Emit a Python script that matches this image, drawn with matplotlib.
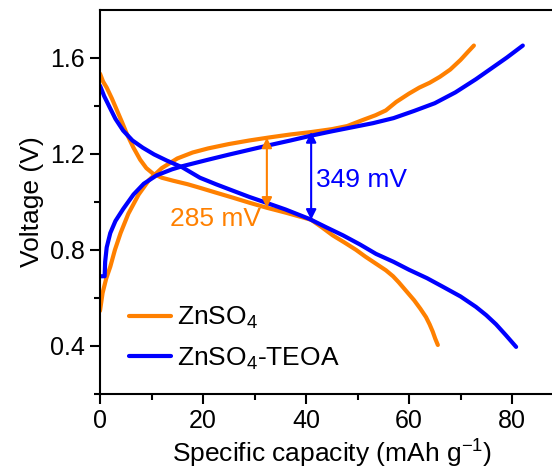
import matplotlib
matplotlib.use("Agg")
import matplotlib.pyplot as plt

plt.rcParams['font.family'] = ['Liberation Sans', 'DejaVu Sans']
plt.rcParams['mathtext.default'] = 'regular'

# ZnSO4 charge / discharge (capacity mAh/g, voltage V)
zn_chg_x = [0.0, 0.5, 1.2, 2.0, 2.9, 4.0, 5.5, 7.5, 9.5, 12, 15, 18, 21, 25, 29, 33,
            37, 41, 45, 48, 51, 53.5, 55.5, 57.5, 60, 62, 64, 66, 68, 70, 71.5, 72.6]
zn_chg_v = [0.546, 0.62, 0.68, 0.73, 0.80, 0.87, 0.95, 1.03, 1.09, 1.14, 1.18, 1.205,
            1.222, 1.24, 1.255, 1.268, 1.28, 1.29, 1.302, 1.315, 1.34, 1.36, 1.38, 1.415,
            1.45, 1.475, 1.495, 1.52, 1.55, 1.59, 1.625, 1.65]
zn_dis_x = [0.0, 0.6, 1.3, 2.3, 3.3, 4.3, 5.2, 6.5, 7.8, 9.0, 10.3, 12, 14.2, 17, 19.4,
            22.5, 25.8, 29, 32.4, 36, 41, 43, 45.2, 47.5, 49.7, 51.5, 53.6, 55.5, 56.9,
            58, 59, 60, 61, 62.2, 63.3, 64, 64.6, 65.1, 65.6]
zn_dis_v = [1.533, 1.50, 1.475, 1.43, 1.38, 1.33, 1.283, 1.225, 1.175, 1.14, 1.117, 1.10,
            1.0875, 1.073, 1.058, 1.038, 1.017, 0.996, 0.975, 0.955, 0.925, 0.895, 0.86,
            0.83, 0.80, 0.772, 0.742, 0.715, 0.69, 0.665, 0.64, 0.615, 0.59, 0.555, 0.52,
            0.49, 0.46, 0.43, 0.404]

# ZnSO4-TEOA charge / discharge
te_chg_x = [0.0, 0.9, 1.0, 1.3, 2.0, 3.0, 4.5, 6.5, 8.5, 11, 14, 16, 21, 25, 29, 33, 37,
            41, 45, 49, 53, 57, 61, 65, 69, 73, 76, 79, 82.1]
te_chg_v = [0.69, 0.69, 0.75, 0.81, 0.87, 0.92, 0.97, 1.03, 1.075, 1.11, 1.135, 1.148,
            1.175, 1.196, 1.216, 1.236, 1.255, 1.275, 1.293, 1.31, 1.327, 1.348, 1.378,
            1.41, 1.455, 1.51, 1.555, 1.60, 1.65]
te_dis_x = [0.0, 0.8, 1.9, 3.0, 4.5, 6.3, 8.3, 10.5, 13, 16, 19.4, 22.5, 25.8, 29, 32.4,
            36, 40.6, 44, 47.2, 50.5, 53.6, 57, 60, 63.5, 66.6, 70, 73, 75, 76.9, 78.8, 80.8]
te_dis_v = [1.483, 1.44, 1.392, 1.345, 1.296, 1.255, 1.225, 1.197, 1.171, 1.143, 1.10,
            1.073, 1.046, 1.02, 0.995, 0.968, 0.929, 0.893, 0.86, 0.822, 0.783, 0.75, 0.717,
            0.682, 0.646, 0.606, 0.5625, 0.528, 0.49, 0.445, 0.396]

# voltage-gap annotations: x, top V, bottom V, label
gap_x = [32.4, 41.0]
gap_top = [1.267, 1.29]
gap_bot = [0.975, 0.925]
gap_labels = ['285 mV', '349 mV']
gap_label_pos = [(22.5, 0.93), (42.0, 1.09)]

orange = '#FF8000'
blue = '#0000FF'

fig = plt.figure(figsize=(5.52, 4.72), dpi=100)
ax = fig.add_axes([100 / 552, 78 / 472, 463.5 / 552, 384.5 / 472])

ax.plot(zn_chg_x, zn_chg_v, color=orange, lw=3, solid_capstyle='round', label='ZnSO$_4$')
ax.plot(zn_dis_x, zn_dis_v, color=orange, lw=3, solid_capstyle='round')
ax.plot(te_chg_x, te_chg_v, color=blue, lw=3, solid_capstyle='round', label='ZnSO$_4$-TEOA')
ax.plot(te_dis_x, te_dis_v, color=blue, lw=3, solid_capstyle='round')

for i, c in enumerate([orange, blue]):
    ax.annotate('', xy=(gap_x[i], gap_bot[i]), xytext=(gap_x[i], gap_top[i]),
                arrowprops=dict(arrowstyle='<|-|>', color=c, lw=1.5,
                                shrinkA=0, shrinkB=0, mutation_scale=15))
ha = ['center', 'left']
for i, c in enumerate([orange, blue]):
    ax.text(gap_label_pos[i][0], gap_label_pos[i][1], gap_labels[i], color=c,
            fontsize=19, ha=ha[i], va='center')

ax.set_xlim(0, 90)
ax.set_ylim(0.2, 1.8)
ax.set_xticks([0, 20, 40, 60, 80])
ax.set_xticks([10, 30, 50, 70], minor=True)
ax.set_yticks([0.4, 0.8, 1.2, 1.6])
ax.set_yticks([0.2, 0.6, 1.0, 1.4], minor=True)
ax.tick_params(which='major', direction='out', length=7, width=1.5, labelsize=18, pad=4)
ax.tick_params(which='minor', direction='out', length=4, width=1.5)
for s in ax.spines.values():
    s.set_linewidth(1.5)

ax.set_xlabel('Specific capacity (mAh g$^{-1}$)', fontsize=19, labelpad=3)
ax.set_ylabel('Voltage (V)', fontsize=19, labelpad=4)

ax.legend(loc='lower left', bbox_to_anchor=(0.04, 0.03), frameon=False,
          fontsize=19, handlelength=1.6, handletextpad=0.2, labelspacing=0.55,
          borderaxespad=0)

fig.savefig('out.png', dpi=100)
